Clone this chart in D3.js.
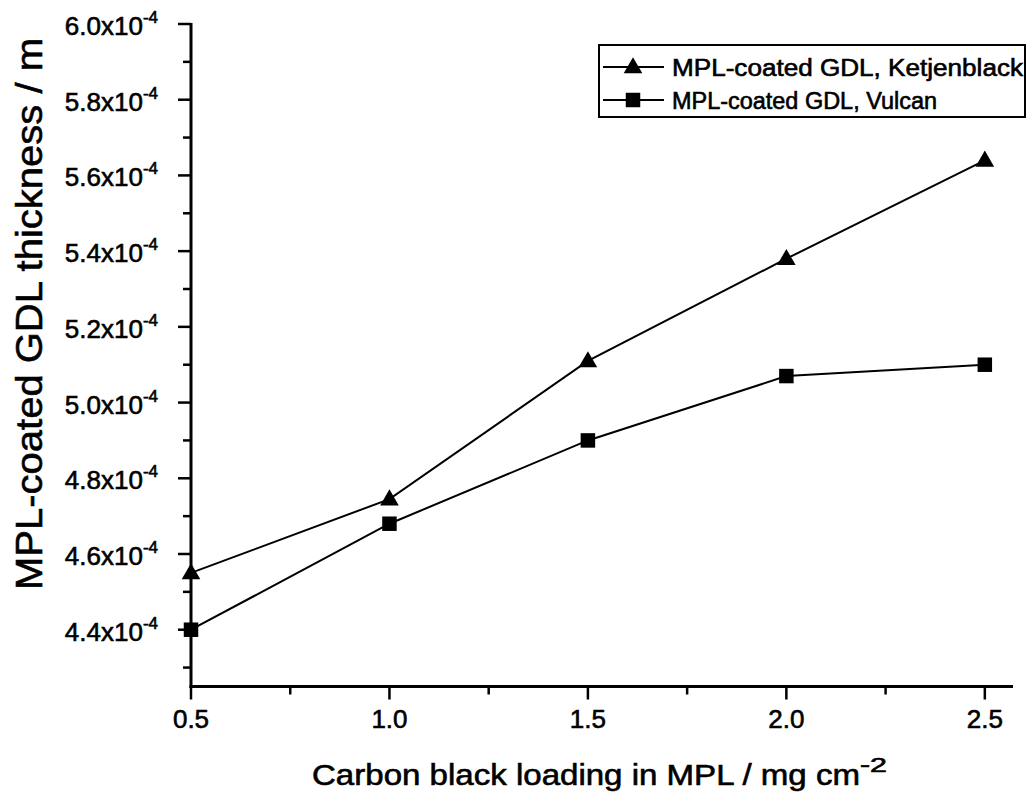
<!DOCTYPE html>
<html><head><meta charset="utf-8">
<script src="https://cdn.jsdelivr.net/npm/d3@7"></script>
<style>body{margin:0;background:#fff;} svg{display:block;font-family:"Liberation Sans",Arial,sans-serif;} text{fill:#000;stroke:#000;stroke-width:0.6px;}</style>
</head><body>
<script>
const loadings = [0.5, 1.0, 1.5, 2.0, 2.5];
const ketjenblack = [4.55, 4.745, 5.11, 5.38, 5.64];
const vulcan = [4.40, 4.68, 4.90, 5.07, 5.10];
const seriesNames = ["MPL-coated GDL, Ketjenblack", "MPL-coated GDL, Vulcan"];
const yTicks = [4.4, 4.6, 4.8, 5.0, 5.2, 5.4, 5.6, 5.8, 6.0];
const xTicks = [0.5, 1.0, 1.5, 2.0, 2.5];

const W = 1034, H = 803;
const svg = d3.select("body").append("svg").attr("width", W).attr("height", H);
const x = d3.scaleLinear().domain([0.5, 2.571]).range([191, 1013]);
const y = d3.scaleLinear().domain([4.25, 6.0]).range([686.5, 24]);

// axes
const gx = svg.append("g").attr("transform", "translate(0,686.5)");
gx.append("line").attr("x1", 189.5).attr("x2", x.range()[1]).attr("stroke", "#000").attr("stroke-width", 3);
const xMinor = d3.range(0.5, 2.571, 0.25);
gx.selectAll(".xm").data(xMinor).join("line").attr("x1", d => x(d)).attr("x2", d => x(d))
  .attr("y1", 0).attr("y2", d => (Math.abs(d*2 - Math.round(d*2)) < 1e-6) ? 13 : 8)
  .attr("stroke", "#000").attr("stroke-width", 2.5);
gx.selectAll(".xl").data(xTicks).join("text").attr("x", d => x(d)).attr("y", 41.5)
  .attr("text-anchor", "middle").attr("font-size", 26).text(d => d.toFixed(1));

const gy = svg.append("g").attr("transform", "translate(191,0)");
gy.append("line").attr("y1", y(6.0)-1).attr("y2", 688).attr("stroke", "#000").attr("stroke-width", 3);
const yMinor = d3.range(4.3, 6.001, 0.1);
gy.selectAll(".ym").data(yMinor).join("line").attr("y1", d => y(d)).attr("y2", d => y(d))
  .attr("x1", d => (Math.round(d*10) % 2 === 0) ? -13 : -8).attr("x2", 0)
  .attr("stroke", "#000").attr("stroke-width", 2.5);
const yl = gy.selectAll(".yl").data(yTicks).join("text").attr("x", -33).attr("y", d => y(d) + 11)
  .attr("text-anchor", "end").attr("font-size", 26);
yl.append("tspan").text(d => d.toFixed(1) + "x10");
yl.append("tspan").attr("dy", -12).attr("font-size", 17).text("-4");

// titles
svg.append("text").attr("transform", "translate(42,314) rotate(-90)").attr("text-anchor", "middle")
  .attr("font-size", 37).attr("textLength", 552).attr("lengthAdjust", "spacingAndGlyphs")
  .text("MPL-coated GDL thickness / m");
const xt = svg.append("text").attr("x", 312).attr("y", 785).attr("font-size", 29);
xt.append("tspan").attr("textLength", 548).attr("lengthAdjust", "spacingAndGlyphs").text("Carbon black loading in MPL / mg cm");
xt.append("tspan").attr("dy", -13).attr("font-size", 20).attr("textLength", 27).attr("lengthAdjust", "spacingAndGlyphs").text("-2");

// series
const line = d3.line().x(d => x(d[0])).y(d => y(d[1]));
const kData = loadings.map((l, i) => [l, ketjenblack[i]]);
const vData = loadings.map((l, i) => [l, vulcan[i]]);
svg.append("path").attr("d", line(kData)).attr("fill", "none").attr("stroke", "#000").attr("stroke-width", 2);
svg.append("path").attr("d", line(vData)).attr("fill", "none").attr("stroke", "#000").attr("stroke-width", 2);
const tri = d3.symbol().type(d3.symbolTriangle).size(150);
const sq = d3.symbol().type(d3.symbolSquare).size(210);
svg.selectAll(".tri").data(kData).join("path").attr("d", tri)
  .attr("transform", d => `translate(${x(d[0])},${y(d[1])+1})`).attr("fill", "#000");
svg.selectAll(".sq").data(vData).join("path").attr("d", sq)
  .attr("transform", d => `translate(${x(d[0])},${y(d[1])})`).attr("fill", "#000");

// legend
const lg = svg.append("g");
lg.append("rect").attr("x", 599).attr("y", 45).attr("width", 426).attr("height", 72)
  .attr("fill", "#fff").attr("stroke", "#000").attr("stroke-width", 2);
const legendWidths = [351, 265];
[0, 1].forEach(i => {
  const cy = 67 + i * 33;
  lg.append("line").attr("x1", 603).attr("x2", 664).attr("y1", cy).attr("y2", cy).attr("stroke", "#000").attr("stroke-width", 2);
  lg.append("path").attr("d", i === 0 ? tri() : sq()).attr("transform", `translate(633,${cy + (i===0?1:0)})`).attr("fill", "#000");
  lg.append("text").attr("x", 672).attr("y", cy + 9).attr("font-size", 23)
    .attr("textLength", legendWidths[i]).attr("lengthAdjust", "spacingAndGlyphs").text(seriesNames[i]);
});
</script>
</body></html>
